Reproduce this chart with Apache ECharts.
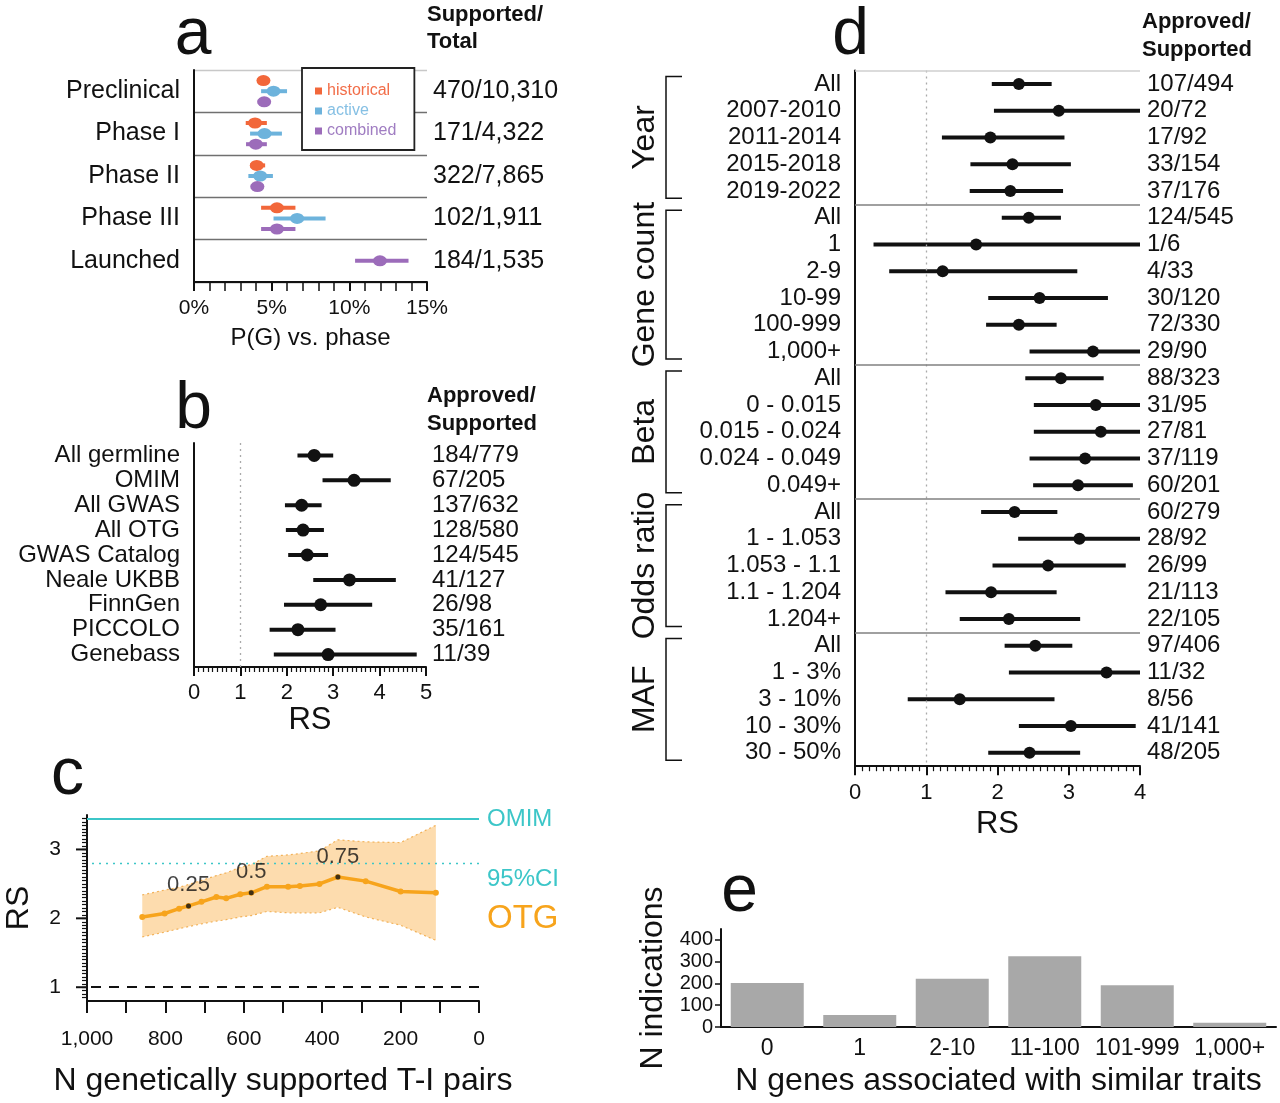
<!DOCTYPE html>
<html><head><meta charset="utf-8">
<script src="https://cdn.jsdelivr.net/npm/echarts@6/dist/echarts.min.js"></script>
<style>html,body{margin:0;padding:0;background:#fff}#c{width:1280px;height:1103px}</style>
</head><body><div id="c"></div>
<script>
// ---------- Panel a data ----------
const phases = ['Preclinical','Phase I','Phase II','Phase III','Launched'];
const phaseCounts = ['470/10,310','171/4,322','322/7,865','102/1,911','184/1,535'];
const histEst = [4.47, 3.93, 4.04, 5.34, null];
const histLo  = [4.15, 3.33, 3.61, 4.32, null];
const histHi  = [4.80, 4.69, 4.58, 6.53, null];
const actEst  = [5.12, 4.54, 4.26, 6.64, null];
const actLo   = [4.32, 3.61, 3.50, 5.12, null];
const actHi   = [5.99, 5.66, 5.08, 8.47, null];
const combEst = [4.52, 3.98, 4.08, 5.34, 11.97];
const combLo  = [4.10, 3.35, 3.65, 4.32, 10.37];
const combHi  = [4.90, 4.69, 4.47, 6.53, 13.81];

// ---------- Panel b data ----------
const sources = ['All germline','OMIM','All GWAS','All OTG','GWAS Catalog','Neale UKBB','FinnGen','PICCOLO','Genebass'];
const sourceCounts = ['184/779','67/205','137/632','128/580','124/545','41/127','26/98','35/161','11/39'];
const sourceRS = [2.59, 3.45, 2.32, 2.35, 2.44, 3.35, 2.73, 2.24, 2.89];
const sourceLo = [2.23, 2.77, 1.96, 1.98, 2.03, 2.57, 1.94, 1.63, 1.72];
const sourceHi = [3.00, 4.24, 2.75, 2.80, 2.89, 4.35, 3.84, 3.05, 4.80];

// ---------- Panel c data ----------
const otgN     = [859, 802, 765, 741, 708, 670, 645, 609, 581, 541, 487, 457, 407, 360, 289, 200, 110];
const otgRS    = [2.02, 2.07, 2.14, 2.18, 2.24, 2.31, 2.29, 2.35, 2.37, 2.46, 2.46, 2.47, 2.50, 2.60, 2.54, 2.39, 2.37];
const otgUpper = [2.34, 2.41, 2.45, 2.49, 2.55, 2.62, 2.66, 2.74, 2.78, 2.90, 2.92, 2.94, 2.98, 3.14, 3.11, 3.10, 3.35];
const otgLower = [1.73, 1.80, 1.85, 1.88, 1.92, 1.96, 1.98, 2.02, 2.04, 2.10, 2.08, 2.08, 2.08, 2.16, 2.02, 1.90, 1.68];
const quantileLabels = ['0.25', '0.5', '0.75'];
const quantileIdx = [3, 8, 13];
const omimRS = 3.45;
const omimLowerCI = 2.8;
const nullRS = 1;
const rsTicks = [1, 2, 3];

// ---------- Panel d data ----------
const dGroups = ['Year','Gene count','Beta','Odds ratio','MAF'];
const dGroupSizes = [5, 6, 5, 5, 5];
const dLabels = ['All','2007-2010','2011-2014','2015-2018','2019-2022',
  'All','1','2-9','10-99','100-999','1,000+',
  'All','0 - 0.015','0.015 - 0.024','0.024 - 0.049','0.049+',
  'All','1 - 1.053','1.053 - 1.1','1.1 - 1.204','1.204+',
  'All','1 - 3%','3 - 10%','10 - 30%','30 - 50%'];
const dCounts = ['107/494','20/72','17/92','33/154','37/176',
  '124/545','1/6','4/33','30/120','72/330','29/90',
  '88/323','31/95','27/81','37/119','60/201',
  '60/279','28/92','26/99','21/113','22/105',
  '97/406','11/32','8/56','41/141','48/205'];
const dRS = [2.30,2.86,1.90,2.21,2.18, 2.44,1.70,1.23,2.59,2.30,3.34, 2.89,3.38,3.45,3.23,3.13, 2.24,3.15,2.71,1.91,2.16, 2.53,3.53,1.47,3.03,2.45];
const dLo = [1.92,1.95,1.22,1.62,1.61, 2.06,0.26,0.48,1.87,1.84,2.45, 2.39,2.51,2.51,2.45,2.50, 1.77,2.29,1.93,1.27,1.47, 2.10,2.16,0.74,2.30,1.87];
const dHi = [2.76,4.00,2.94,3.03,2.92, 2.89,4.00,3.12,3.55,2.83,4.00, 3.49,4.00,4.00,4.00,3.90, 2.84,4.00,3.80,2.83,3.16, 3.05,4.00,2.80,3.94,3.16];

// ---------- Panel e data ----------
const geneBins = ['0','1','2-10','11-100','101-999','1,000+'];
const nIndications = [202, 55, 222, 325, 192, 20];
const eTicks = [0, 100, 200, 300, 400];

// ---------- styling ----------
const FONT = '"Liberation Sans", Arial, Helvetica, sans-serif';
const BLACK = '#111';
const C_HIST = '#F2673A', C_ACT = '#6DB3DC', C_COMB = '#9C6CBA';
const T_HIST = '#F26D48', T_ACT = '#86C0E4', T_COMB = '#A07DC2';
const CYAN = '#3CC6C8', ORANGE = '#F7A41C', BAND = '#FDDCAE', BAND_EDGE = '#F2B25A';
const txt = (s, extra) => Object.assign({color: BLACK, fontSize: s, fontFamily: FONT}, extra || {});

function errBar(color, width) {
  return function (params, api) {
    const y = api.value(2);
    const p1 = api.coord([api.value(0), y]);
    const p2 = api.coord([api.value(1), y]);
    return {type: 'line', shape: {x1: p1[0], y1: p1[1], x2: p2[0], y2: p2[1]},
            style: {stroke: color, lineWidth: width}};
  };
}

const subOffset = {historical: 0.25, active: 0.5, combined: 0.75};
function aPos(i, key) {
  const onlyComb = histEst[i] == null && actEst[i] == null;
  return i + (onlyComb ? 0.5 : subOffset[key]);
}
function aSeries(name, est, lo, hi, color) {
  const bars = [], pts = [];
  est.forEach((v, i) => {
    if (v == null) return;
    bars.push([lo[i], hi[i], aPos(i, name)]);
    pts.push([v, aPos(i, name)]);
  });
  return [
    {type: 'scatter', name, xAxisIndex: 0, yAxisIndex: 2, data: pts, symbol: 'circle',
     symbolSize: [14, 11], itemStyle: {color: color, opacity: 1}, silent: true, z: 4},
    {type: 'custom', name, xAxisIndex: 0, yAxisIndex: 2, data: bars, encode: {x: [0, 1], y: 2},
     itemStyle: {color: color}, renderItem: errBar(color, 4), silent: true, z: 3}
  ];
}

const dBounds = [0];
dGroupSizes.forEach(s => dBounds.push(dBounds[dBounds.length - 1] + s));
const dTotal = dBounds[dBounds.length - 1];

const valAxisLine = {show: true, onZero: false, lineStyle: {color: BLACK, width: 2}};
const C_GRID = {left: 87, top: 815, width: 392, height: 186};

const option = {
  animation: false,
  backgroundColor: '#fff',
  textStyle: {fontFamily: FONT},
  grid: [
    {left: 194, top: 70, width: 233, height: 212},
    {left: 194, top: 443, width: 232, height: 224},
    C_GRID,
    {left: 855, top: 70.6, width: 285, height: 695.6},
    {left: 721, top: 929, width: 555, height: 98}
  ],
  legend: {
    left: 302, top: 68, orient: 'vertical', selectedMode: false, z: 10,
    data: [
      {name: 'historical', itemStyle: {color: C_HIST}, textStyle: {color: T_HIST}},
      {name: 'active', itemStyle: {color: C_ACT}, textStyle: {color: T_ACT}},
      {name: 'combined', itemStyle: {color: C_COMB}, textStyle: {color: T_COMB}}
    ],
    icon: 'rect', itemWidth: 7, itemHeight: 7, itemGap: 4,
    textStyle: {fontSize: 16, fontFamily: FONT},
    backgroundColor: '#fff',
    borderColor: '#222', borderWidth: 1.8, padding: [15, 18, 11, 13]
  },
  xAxis: [
    {gridIndex: 0, type: 'value', min: 0, max: 15, interval: 5,
     axisLine: valAxisLine, axisTick: {show: true, length: 9, lineStyle: {color: BLACK, width: 2}},
     minorTick: {show: true, splitNumber: 5, length: 9, lineStyle: {color: BLACK, width: 1.5}},
     splitLine: {show: false}, minorSplitLine: {show: false},
     axisLabel: Object.assign({formatter: '{value}%', margin: 16}, txt(21)),
     name: 'P(G) vs. phase', nameLocation: 'middle', nameGap: 44, nameTextStyle: txt(24)},
    {gridIndex: 1, type: 'value', min: 0, max: 5, interval: 1,
     axisLine: valAxisLine, axisTick: {show: true, length: 9, lineStyle: {color: BLACK, width: 2}},
     minorTick: {show: true, splitNumber: 10, length: 5, lineStyle: {color: BLACK, width: 1.2}},
     splitLine: {show: false},
     axisLabel: Object.assign({margin: 15}, txt(22)),
     name: 'RS', nameLocation: 'middle', nameGap: 37, nameTextStyle: txt(31)},
    {gridIndex: 2, type: 'value', min: 0, max: 1000, interval: 200, inverse: true,
     axisLine: valAxisLine, axisTick: {show: true, length: 12, lineStyle: {color: BLACK, width: 2}},
     minorTick: {show: true, splitNumber: 2, length: 12, lineStyle: {color: BLACK, width: 2}},
     splitLine: {show: false},
     axisLabel: Object.assign({margin: 28}, txt(21)),
     name: 'N genetically supported T-I pairs', nameLocation: 'middle', nameGap: 64, nameTextStyle: txt(32)},
    {gridIndex: 3, type: 'value', min: 0, max: 4, interval: 1,
     axisLine: valAxisLine, axisTick: {show: true, length: 9, lineStyle: {color: BLACK, width: 2}},
     minorTick: {show: true, splitNumber: 10, length: 5, lineStyle: {color: BLACK, width: 1.2}},
     splitLine: {show: false},
     axisLabel: Object.assign({margin: 16}, txt(22)),
     name: 'RS', nameLocation: 'middle', nameGap: 38, nameTextStyle: txt(31)},
    {gridIndex: 4, type: 'category', data: geneBins,
     axisLine: {show: true, lineStyle: {color: BLACK, width: 2}}, axisTick: {show: false},
     axisLabel: Object.assign({margin: 10, interval: 0}, txt(23)),
     name: 'N genes associated with similar traits', nameLocation: 'middle', nameGap: 38, nameTextStyle: txt(32)}
  ],
  yAxis: [
    // 0: a labels
    {gridIndex: 0, type: 'category', data: phases, inverse: true, boundaryGap: true,
     axisLine: {show: true, lineStyle: {color: BLACK, width: 2}}, axisTick: {show: false},
     axisLabel: Object.assign({margin: 14}, txt(25)),
     splitLine: {show: true, lineStyle: {color: ['#c8c8c8', '#707070', '#707070', '#707070', '#707070', '#707070'], width: 1.3}}},
    // 1: a counts
    {gridIndex: 0, type: 'category', data: phaseCounts, inverse: true, position: 'right',
     axisLine: {show: false}, axisTick: {show: false}, splitLine: {show: false},
     axisLabel: Object.assign({margin: 6, align: 'left'}, txt(25))},
    // 2: a positions (hidden)
    {gridIndex: 0, type: 'value', min: 0, max: phases.length, inverse: true, show: false},
    // 3: b labels
    {gridIndex: 1, type: 'category', data: sources, inverse: true,
     axisLine: {show: true, lineStyle: {color: BLACK, width: 2}}, axisTick: {show: false},
     axisLabel: Object.assign({margin: 14, interval: 0}, txt(24)), splitLine: {show: false}},
    // 4: b counts
    {gridIndex: 1, type: 'category', data: sourceCounts, inverse: true, position: 'right',
     axisLine: {show: false}, axisTick: {show: false}, splitLine: {show: false},
     axisLabel: Object.assign({margin: 6, align: 'left', interval: 0}, txt(24))},
    // 5: c RS
    {gridIndex: 2, type: 'value', min: 0.8, max: 3.5, interval: 0.05, position: 'left',
     axisLine: valAxisLine,
     axisTick: {show: true, length: 5, lineStyle: {color: BLACK, width: 1.2}},
     axisLabel: Object.assign({margin: 26, showMinLabel: false, showMaxLabel: false,
       formatter: v => rsTicks.some(t => Math.abs(t - v) < 1e-6) ? String(Math.round(v)) : ''}, txt(21)),
     splitLine: {show: false},
     name: 'RS', nameLocation: 'middle', nameGap: 52, nameRotate: 90, nameTextStyle: txt(32)},
    // 6: d labels
    {gridIndex: 3, type: 'category', data: dLabels, inverse: true,
     axisLine: {show: true, lineStyle: {color: BLACK, width: 2}}, axisTick: {show: false},
     axisLabel: Object.assign({margin: 14, interval: 0}, txt(24)), splitLine: {show: false}},
    // 7: d counts
    {gridIndex: 3, type: 'category', data: dCounts, inverse: true, position: 'right',
     axisLine: {show: false}, axisTick: {show: false}, splitLine: {show: false},
     axisLabel: Object.assign({margin: 7, align: 'left', interval: 0}, txt(24))},
    // 8: d positions (hidden)
    {gridIndex: 3, type: 'value', min: 0, max: dTotal, inverse: true, show: false},
    // 9: e counts
    {gridIndex: 4, type: 'value', min: 0, max: 450, interval: 50,
     axisLine: valAxisLine,
     axisTick: {show: true, customValues: eTicks, length: 6, lineStyle: {color: BLACK, width: 1.5}},
     axisLabel: Object.assign({customValues: eTicks, margin: 8}, txt(20)),
     splitLine: {show: false},
     name: 'N indications', nameLocation: 'middle', nameGap: 52, nameRotate: 90, nameTextStyle: txt(32)}
  ],
  series: [
    ...aSeries('historical', histEst, histLo, histHi, C_HIST),
    ...aSeries('active', actEst, actLo, actHi, C_ACT),
    ...aSeries('combined', combEst, combLo, combHi, C_COMB),

    // panel b
    {type: 'custom', xAxisIndex: 1, yAxisIndex: 3, data: sourceRS.map((v, i) => [sourceLo[i], sourceHi[i], i]),
     encode: {x: [0, 1], y: 2}, renderItem: errBar(BLACK, 4), silent: true, z: 3},
    {type: 'scatter', xAxisIndex: 1, yAxisIndex: 3, data: sourceRS.map((v, i) => [v, i]),
     symbolSize: 13, itemStyle: {color: BLACK, opacity: 1}, silent: true, z: 4,
     markLine: {silent: true, symbol: ['none', 'none'], label: {show: false},
       lineStyle: {color: '#aaa', type: [2, 4], width: 1.3}, data: [{xAxis: nullRS}]}},

    // panel c
    {type: 'custom', xAxisIndex: 2, yAxisIndex: 5, data: [[otgN[0], otgRS[0]]], silent: true, z: 1,
     renderItem: function (params, api) {
       const pts = [];
       for (let i = 0; i < otgN.length; i++) pts.push(api.coord([otgN[i], otgUpper[i]]));
       for (let i = otgN.length - 1; i >= 0; i--) pts.push(api.coord([otgN[i], otgLower[i]]));
       return {type: 'polygon', shape: {points: pts}, style: {fill: BAND}};
     }},
    {type: 'line', xAxisIndex: 2, yAxisIndex: 5, data: otgN.map((n, i) => [n, otgUpper[i]]),
     symbol: 'none', lineStyle: {color: BAND_EDGE, type: [2, 3], width: 1.2}, silent: true, z: 2},
    {type: 'line', xAxisIndex: 2, yAxisIndex: 5, data: otgN.map((n, i) => [n, otgLower[i]]),
     symbol: 'none', lineStyle: {color: BAND_EDGE, type: [2, 3], width: 1.2}, silent: true, z: 2},
    {type: 'line', xAxisIndex: 2, yAxisIndex: 5, data: otgN.map((n, i) => [n, otgRS[i]]),
     symbol: 'circle', symbolSize: 6, showSymbol: true, itemStyle: {color: ORANGE},
     lineStyle: {color: ORANGE, width: 3.5}, silent: true, z: 5,
     markLine: {silent: true, symbol: ['none', 'none'], label: {show: false},
       data: [
         {yAxis: omimRS, lineStyle: {color: CYAN, type: 'solid', width: 2.2}},
         {yAxis: omimLowerCI, lineStyle: {color: CYAN, type: [2, 5], width: 1.4}},
         {yAxis: nullRS, lineStyle: {color: BLACK, type: [10, 8], width: 2}}
       ]}},
    {type: 'scatter', xAxisIndex: 2, yAxisIndex: 5, data: quantileIdx.map(k => [otgN[k], otgRS[k]]),
     symbolSize: 5, itemStyle: {color: BLACK}, silent: true, z: 6,
     label: {show: true, position: 'top', distance: 7,
       formatter: p => quantileLabels[p.dataIndex], color: BLACK, fontSize: 22, fontFamily: FONT}},

    // panel d
    {type: 'custom', xAxisIndex: 3, yAxisIndex: 8, data: dRS.map((v, i) => [dLo[i], dHi[i], i + 0.5]),
     encode: {x: [0, 1], y: 2}, renderItem: errBar(BLACK, 4), silent: true, z: 3},
    {type: 'scatter', xAxisIndex: 3, yAxisIndex: 8, data: dRS.map((v, i) => [v, i + 0.5]),
     symbolSize: 12, itemStyle: {color: BLACK, opacity: 1}, silent: true, z: 4,
     markLine: {silent: true, symbol: ['none', 'none'], label: {show: false},
       data: [{xAxis: nullRS, lineStyle: {color: '#aaa', type: [2, 4], width: 1.3}}].concat(
         dBounds.slice(0, -1).map((b, k) => ({yAxis: b,
           lineStyle: {color: k === 0 ? '#cfcfcf' : '#808080', type: 'solid', width: 1.5}})))}},

    // panel e
    {type: 'bar', xAxisIndex: 4, yAxisIndex: 9, data: nIndications, barWidth: 73,
     itemStyle: {color: '#A8A8A8'}, silent: true}
  ]
};

const chart = echarts.init(document.getElementById('c'));
chart.setOption(option);

// annotations (computed after layout)
const g = [];
function letter(ch, x, y) {
  g.push({type: 'text', x: x, y: y, z: 20, style: {text: ch, fill: BLACK, fontSize: 66, fontFamily: FONT, align: 'center', verticalAlign: 'middle'}});
}
letter('a', 193, 36); letter('b', 193.5, 410); letter('c', 67.5, 776); letter('d', 850.5, 36); letter('e', 739.5, 893);
function head(t, x, y) {
  g.push({type: 'text', x: x, y: y, z: 20, style: {text: t, fill: BLACK, fontSize: 22, fontWeight: 'bold', fontFamily: FONT, align: 'left', verticalAlign: 'middle'}});
}
head('Supported/', 427, 15); head('Total', 427, 42);
head('Approved/', 427, 396); head('Supported', 427, 424);
head('Approved/', 1142, 22); head('Supported', 1142, 50);

// panel c: longer ticks at labelled RS values
rsTicks.forEach(t => {
  const y = chart.convertToPixel({yAxisIndex: 5}, t);
  g.push({type: 'line', shape: {x1: C_GRID.left - 11, y1: y, x2: C_GRID.left, y2: y},
          style: {stroke: BLACK, lineWidth: 2}});
});

// panel c side labels
const yOmim = chart.convertToPixel({yAxisIndex: 5}, omimRS);
const yCI = chart.convertToPixel({yAxisIndex: 5}, omimLowerCI);
g.push({type: 'text', x: 487, y: yOmim + 1, style: {text: 'OMIM', fill: CYAN, fontSize: 24, fontFamily: FONT, verticalAlign: 'middle'}});
g.push({type: 'text', x: 487, y: yCI + 16, style: {text: '95%CI', fill: CYAN, fontSize: 24, fontFamily: FONT, verticalAlign: 'middle'}});
g.push({type: 'text', x: 487, y: yCI + 56, style: {text: 'OTG', fill: ORANGE, fontSize: 33, fontFamily: FONT, verticalAlign: 'middle'}});

// panel d group brackets + labels
dGroups.forEach((name, k) => {
  const y0 = chart.convertToPixel({yAxisIndex: 8}, dBounds[k]) + 6;
  const y1 = chart.convertToPixel({yAxisIndex: 8}, dBounds[k + 1]) - 6;
  g.push({type: 'polyline', shape: {points: [[682, y0], [666, y0], [666, y1], [682, y1]]},
          style: {stroke: BLACK, lineWidth: 1.5, fill: null}});
  g.push({type: 'text', x: 645, y: (y0 + y1) / 2, rotation: Math.PI / 2,
          style: {text: name, fill: BLACK, fontSize: 32, fontFamily: FONT, align: 'center', verticalAlign: 'middle'}});
});
chart.setOption({graphic: g});
</script>
</body></html>
